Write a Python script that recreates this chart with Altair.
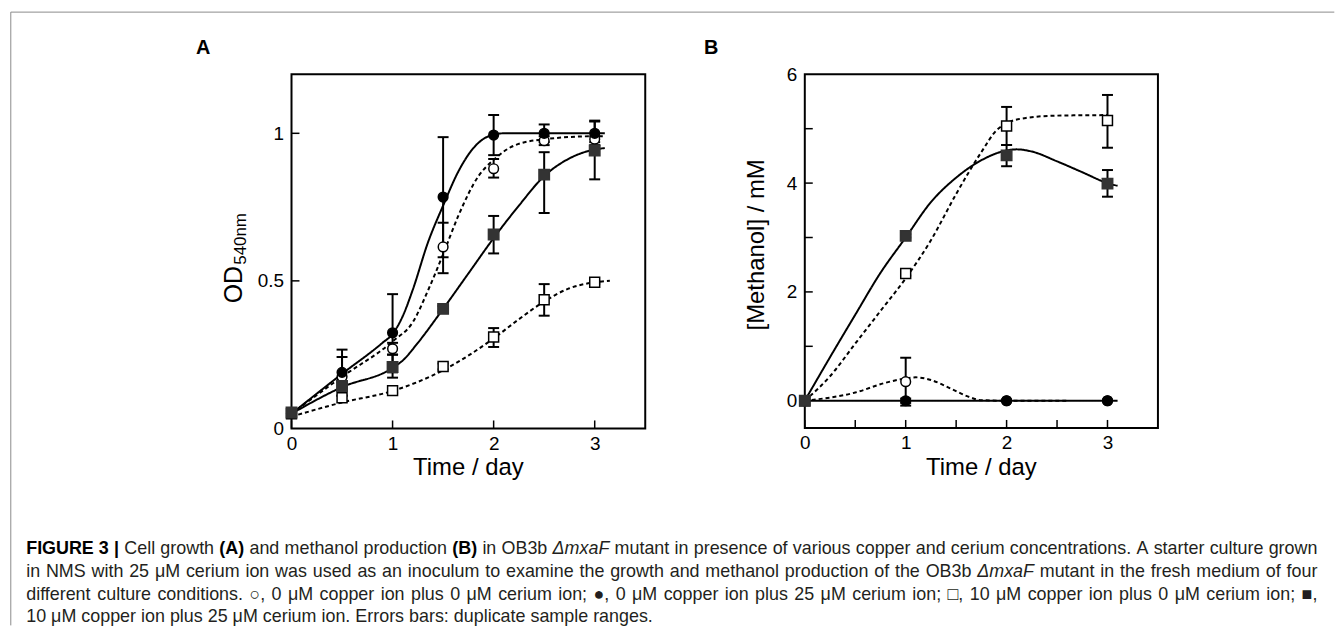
import altair as alt
import pandas as pd

# ---------------- Panel A: cell growth, OD540nm ----------------
a_time = [0, 0.5, 1, 1.5, 2, 2.5, 3]
a_cu0_ce0 = [0.05, 0.175, 0.27, 0.615, 0.88, 0.975, 0.98]
a_cu0_ce0_lo = [0.05, 0.11, 0.25, 0.526, 0.85, 0.96, 0.97]
a_cu0_ce0_hi = [0.05, 0.242, 0.29, 0.697, 0.913, 0.99, 0.99]
a_cu0_ce25 = [0.05, 0.19, 0.324, 0.784, 0.994, 1.0, 1.0]
a_cu0_ce25_lo = [0.05, 0.112, 0.19, 0.58, 0.926, 0.97, 0.96]
a_cu0_ce25_hi = [0.05, 0.267, 0.455, 0.987, 1.062, 1.03, 1.043]
a_cu10_ce0 = [0.05, 0.104, 0.128, 0.21, 0.31, 0.436, 0.495]
a_cu10_ce0_lo = [0.05, 0.104, 0.12, 0.2, 0.276, 0.382, 0.49]
a_cu10_ce0_hi = [0.05, 0.104, 0.135, 0.22, 0.34, 0.489, 0.5]
a_cu10_ce25 = [0.054, 0.144, 0.208, 0.405, 0.657, 0.86, 0.942]
a_cu10_ce25_lo = [0.054, 0.13, 0.172, 0.395, 0.593, 0.73, 0.844]
a_cu10_ce25_hi = [0.054, 0.158, 0.25, 0.415, 0.72, 0.936, 1.04]

# fitted curves of panel A
a_fit_cu0_ce0_t = [0, 0.5, 1.0, 1.2, 1.36, 1.5, 1.65, 1.85, 2.0, 2.2, 2.5, 3.0, 3.1]
a_fit_cu0_ce0_v = [0.05, 0.175, 0.295, 0.36, 0.475, 0.59, 0.72, 0.855, 0.91, 0.958, 0.98, 0.99, 0.99]
a_fit_cu0_ce25_t = [0, 0.5, 0.9, 1.0, 1.1, 1.2, 1.35, 1.5, 1.65, 1.8, 1.95, 2.1, 2.5, 3.0, 3.1]
a_fit_cu0_ce25_v = [0.05, 0.185, 0.29, 0.32, 0.38, 0.47, 0.63, 0.755, 0.87, 0.95, 0.99, 1.0, 1.0, 1.0, 1.0]
a_fit_cu10_ce0_t = [0, 0.5, 1.0, 1.5, 2.0, 2.25, 2.5, 2.75, 3.0, 3.15]
a_fit_cu10_ce0_v = [0.04, 0.088, 0.127, 0.197, 0.305, 0.37, 0.43, 0.475, 0.495, 0.5]
a_fit_cu10_ce25_t = [0, 0.5, 1.0, 1.1, 1.25, 1.5, 1.75, 2.0, 2.25, 2.5, 2.75, 3.0, 3.1]
a_fit_cu10_ce25_v = [0.05, 0.14, 0.205, 0.23, 0.29, 0.405, 0.525, 0.645, 0.755, 0.855, 0.915, 0.945, 0.95]

# ---------------- Panel B: methanol production, mM ----------------
b_time = [0, 1, 2, 3]
b_cu0_ce0 = [0, 0.35, 0, 0]
b_cu0_ce0_lo = [0, -0.09, 0, 0]
b_cu0_ce0_hi = [0, 0.79, 0, 0]
b_cu0_ce25 = [0, 0, 0, 0]
b_cu0_ce25_lo = [0, -0.04, 0, 0]
b_cu0_ce25_hi = [0, 0.04, 0, 0]
b_cu10_ce0 = [0, 2.34, 5.05, 5.15]
b_cu10_ce0_lo = [0, 2.3, 4.7, 4.65]
b_cu10_ce0_hi = [0, 2.4, 5.4, 5.62]
b_cu10_ce25 = [0, 3.03, 4.51, 3.99]
b_cu10_ce25_lo = [0, 3.0, 4.31, 3.75]
b_cu10_ce25_hi = [0, 3.06, 4.7, 4.24]

b_fit_cu0_ce0_t = [0, 0.5, 0.8, 1.0, 1.1, 1.25, 1.45, 1.6, 1.75, 2.0, 2.6]
b_fit_cu0_ce0_v = [0, 0.15, 0.33, 0.41, 0.43, 0.38, 0.22, 0.09, 0.01, 0, 0]
b_fit_cu0_ce25_t = [0, 3.1]
b_fit_cu0_ce25_v = [0, 0]
b_fit_cu10_ce0_t = [0, 0.25, 0.5, 0.75, 1.0, 1.25, 1.5, 1.75, 1.9, 2.0, 2.2, 2.5, 3.0]
b_fit_cu10_ce0_v = [0, 0.45, 1.05, 1.65, 2.25, 2.95, 3.8, 4.57, 4.97, 5.1, 5.2, 5.24, 5.25]
b_fit_cu10_ce25_t = [0, 0.25, 0.5, 0.75, 1.0, 1.25, 1.5, 1.75, 2.0, 2.1, 2.25, 2.5, 2.75, 3.0, 3.1]
b_fit_cu10_ce25_v = [0, 0.8, 1.58, 2.35, 3.0, 3.65, 4.1, 4.42, 4.6, 4.62, 4.58, 4.4, 4.2, 4.0, 3.95]

# axis tick positions and labels
a_xticks = [0, 1, 2, 3]
a_yticks = [0.5, 1.0]
a_ylabels = [0, 0.5, 1]
b_xticks = [0, 0.5, 1, 1.5, 2, 2.5, 3]
b_yticks = [1, 2, 3, 4, 5]
b_ylabels = [0, 2, 4, 6]
xlabels = [0, 1, 2, 3]

# caption text (word, style) ; b = bold, i = italic, r = regular
caption = [
    [("FIGURE 3", "b"), ("|", "b"), ("Cell", "r"), ("growth", "r"), ("(A)", "b"), ("and", "r"),
     ("methanol", "r"), ("production", "r"), ("(B)", "b"), ("in", "r"), ("OB3b", "r"),
     ("ΔmxaF", "i")] + [(w, "r") for w in
     "mutant in presence of various copper and cerium concentrations. A starter culture grown".split()],
    [(w, "r") for w in
     "in NMS with 25 μM cerium ion was used as an inoculum to examine the growth and methanol production of the OB3b".split()]
    + [("ΔmxaF", "i")] + [(w, "r") for w in "mutant in the fresh medium of four".split()],
    [(w, "r") for w in
     ("different culture conditions. ○, 0 μM copper ion plus 0 μM cerium ion; ●, 0 μM copper ion plus "
      "25 μM cerium ion; □, 10 μM copper ion plus 0 μM cerium ion; ■,").split()],
    [(w, "r") for w in "10 μM copper ion plus 25 μM cerium ion. Errors bars: duplicate sample ranges.".split()],
]

FONT = "Liberation Sans"

# Arial / Liberation Sans advance widths (1/1000 em), used to lay the justified caption out
_W = {' ': 278, '(': 333, ')': 333, ',': 278, '.': 278, ':': 278, ';': 278, '|': 260, '/': 278,
      'A': 667, 'B': 667, 'C': 722, 'D': 722, 'E': 667, 'F': 611, 'G': 778, 'H': 722, 'I': 278,
      'M': 833, 'N': 722, 'O': 778, 'R': 722, 'S': 667, 'U': 722,
      'a': 556, 'b': 556, 'c': 500, 'd': 556, 'e': 556, 'f': 278, 'g': 556, 'h': 556, 'i': 222,
      'j': 222, 'k': 500, 'l': 222, 'm': 833, 'n': 556, 'o': 556, 'p': 556, 'q': 556, 'r': 333,
      's': 500, 't': 278, 'u': 556, 'v': 500, 'w': 722, 'x': 500, 'y': 500, 'z': 500,
      'μ': 576, 'Δ': 668, '○': 604, '●': 604, '□': 604, '■': 604}
_WB = dict(_W, **{'A': 722, 'B': 722, '|': 280})


def text_width(s, style, size):
    tab = _WB if style == "b" else _W
    return sum(tab.get(ch, 556) for ch in s) * size / 1000.0


STYLE = {
    "cu0_ce0": dict(shape="circle", fill="white", stroke="black", dash=[4, 3], size=95),
    "cu0_ce25": dict(shape="circle", fill="black", stroke="black", dash=[1, 0], size=95),
    "cu10_ce0": dict(shape="square", fill="white", stroke="black", dash=[4, 3], size=100),
    "cu10_ce25": dict(shape="square", fill="#333333", stroke="#333333", dash=[1, 0], size=110),
}


def pts(time, d):
    rows = []
    for key, (v, lo, hi) in d.items():
        for t, a, b, c in zip(time, v, lo, hi):
            rows.append({"t": t, "v": a, "lo": b, "hi": c, "s": key})
    return pd.DataFrame(rows)


def fits(d):
    rows = []
    for key, (ts, vs) in d.items():
        for t, v in zip(ts, vs):
            rows.append({"t": t, "v": v, "s": key})
    return pd.DataFrame(rows)


def txt(s, x, y, size, weight="normal", style="normal", angle=0, align="left",
        baseline="middle", font=FONT, color="black"):
    return alt.Chart(pd.DataFrame({"txt": [s]})).mark_text(
        x=x, y=y, fontSize=size, fontWeight=weight, fontStyle=style, angle=angle,
        align=align, baseline=baseline, font=font, color=color
    ).encode(text="txt:N")


XS = alt.Scale(domain=[0, 3.5], nice=False, zero=False)
XAX = alt.Axis(values=xlabels, title=None, domain=False, ticks=False, grid=False,
               labelFontSize=19, labelFont=FONT, labelColor="black", labelPadding=6,
               labelFlush=False, format="~g")


def X(f):
    return alt.X(f, type="quantitative", scale=XS, axis=XAX)


def panel(points, curves, ydom, xt, yt, ylab, w, h):
    ys = alt.Scale(domain=ydom, nice=False, zero=False)
    yax = alt.Axis(values=ylab, title=None, domain=False, ticks=False, grid=False,
                   labelFontSize=19, labelFont=FONT, labelColor="black", labelPadding=8,
                   labelFlush=False, format="~g")

    def Y(f):
        return alt.Y(f, type="quantitative", scale=ys, axis=yax)

    layers = []
    # inward ticks
    layers.append(alt.Chart(pd.DataFrame({"tk": xt})).mark_rule(color="black", strokeWidth=1.5)
                  .encode(x=X("tk"), y=alt.value(h), y2=alt.value(h - 8)))
    layers.append(alt.Chart(pd.DataFrame({"tk": yt})).mark_rule(color="black", strokeWidth=1.5)
                  .encode(y=Y("tk"), x=alt.value(0), x2=alt.value(8)))
    for key, st in STYLE.items():
        c = curves[curves.s == key]
        layers.append(alt.Chart(c).mark_line(interpolate="monotone", color="black",
                                             strokeWidth=2, strokeDash=st["dash"])
                      .encode(x=X("t"), y=Y("v")))
    eb = points[points.hi - points.lo > 0.001]
    layers.append(alt.Chart(eb).mark_rule(color="black", strokeWidth=2)
                  .encode(x=X("t"), y=Y("lo"), y2="hi"))
    for f in ["lo", "hi"]:
        layers.append(alt.Chart(eb).mark_tick(orient="horizontal", color="black", size=11,
                                              thickness=2, opacity=1)
                      .encode(x=X("t"), y=Y(f)))
    for key, st in STYLE.items():
        p = points[points.s == key]
        layers.append(alt.Chart(p).mark_point(shape=st["shape"], filled=True, fill=st["fill"],
                                              stroke=st["stroke"], strokeWidth=1.5,
                                              size=st["size"], opacity=1)
                      .encode(x=X("t"), y=Y("v")))
    return layers


pa = pts(a_time, {
    "cu0_ce0": (a_cu0_ce0, a_cu0_ce0_lo, a_cu0_ce0_hi),
    "cu0_ce25": (a_cu0_ce25, a_cu0_ce25_lo, a_cu0_ce25_hi),
    "cu10_ce0": (a_cu10_ce0, a_cu10_ce0_lo, a_cu10_ce0_hi),
    "cu10_ce25": (a_cu10_ce25, a_cu10_ce25_lo, a_cu10_ce25_hi),
})
fa = fits({
    "cu0_ce0": (a_fit_cu0_ce0_t, a_fit_cu0_ce0_v),
    "cu0_ce25": (a_fit_cu0_ce25_t, a_fit_cu0_ce25_v),
    "cu10_ce0": (a_fit_cu10_ce0_t, a_fit_cu10_ce0_v),
    "cu10_ce25": (a_fit_cu10_ce25_t, a_fit_cu10_ce25_v),
})
pb = pts(b_time, {
    "cu0_ce0": (b_cu0_ce0, b_cu0_ce0_lo, b_cu0_ce0_hi),
    "cu0_ce25": (b_cu0_ce25, b_cu0_ce25_lo, b_cu0_ce25_hi),
    "cu10_ce0": (b_cu10_ce0, b_cu10_ce0_lo, b_cu10_ce0_hi),
    "cu10_ce25": (b_cu10_ce25, b_cu10_ce25_lo, b_cu10_ce25_hi),
})
fb = fits({
    "cu0_ce0": (b_fit_cu0_ce0_t, b_fit_cu0_ce0_v),
    "cu0_ce25": (b_fit_cu0_ce25_t, b_fit_cu0_ce25_v),
    "cu10_ce0": (b_fit_cu10_ce0_t, b_fit_cu10_ce0_v),
    "cu10_ce25": (b_fit_cu10_ce25_t, b_fit_cu10_ce25_v),
})

WA, HA = 355.6, 356
WB, HB = 355, 355.5
OX, OY = 291.7, 72  # page position of panel A plot origin

la = panel(pa, fa, [0, 1.2], a_xticks, a_yticks, a_ylabels, WA, HA)
lb = panel(pb, fb, [-0.5, 6], b_xticks, b_yticks, b_ylabels, WB, HB)

# frame of the figure
la.append(alt.Chart(pd.DataFrame({"k": [0]})).mark_rule(color="#8a8a8a", strokeWidth=1)
          .encode(x=alt.value(9.5 - OX), x2=alt.value(1340 - OX), y=alt.value(9.5 - OY)))
la.append(alt.Chart(pd.DataFrame({"k": [0]})).mark_rule(color="#8a8a8a", strokeWidth=1)
          .encode(x=alt.value(9.5 - OX), y=alt.value(9.5 - OY), y2=alt.value(626 - OY)))

# panel letters and titles
la.append(txt("A", 203 - OX, 46 - OY, 20, weight="bold", align="center"))
lb.append(txt("B", -94, 46 - OY, 20, weight="bold", align="center"))
la.append(txt("Time / day", WA / 2, 468 - OY, 24, align="center"))
lb.append(txt("Time / day", WB / 2, 468 - OY, 24, align="center"))
la.append(txt("OD", 234 - OX, 283.5 - OY, 25, angle=270, align="center"))
la.append(txt("540nm", 241 - OX, 237.5 - OY, 17, angle=270, align="center"))
lb.append(txt("[Methanol] / mM", -48.3, 171.5, 24, angle=270, align="center"))

# caption: words laid out with font metrics, lines 1-3 justified
CAP_SIZE = 18
CAP_X0, CAP_X1 = 25, 1323
CAP_BASE = [554, 577, 600, 623]
for li, line in enumerate(caption):
    widths = [text_width(wd, st, CAP_SIZE) for wd, st in line]
    natural_gap = 278 * CAP_SIZE / 1000.0
    if li < 3:
        gap = (CAP_X1 - CAP_X0 - sum(widths)) / (len(line) - 1)
        gap = max(gap, 2.0)
    else:
        gap = natural_gap
    x = CAP_X0
    rows = {"b": [], "i": [], "r": []}
    for (wd, st), wdt in zip(line, widths):
        rows[st].append({"w": wd, "tx": (x - OX) * 3.5 / WA})
        x += wdt + gap
    for st, rr in rows.items():
        if not rr:
            continue
        la.append(alt.Chart(pd.DataFrame(rr)).mark_text(
            y=CAP_BASE[li] - OY, fontSize=CAP_SIZE, font=FONT, align="left", baseline="alphabetic",
            fontWeight="bold" if st == "b" else "normal",
            fontStyle="italic" if st == "i" else "normal",
            color="#000000" if st == "b" else "#231f20"
        ).encode(x=X("tx"), text="w:N"))

panel_a = alt.layer(*la).properties(width=WA, height=HA)
panel_b = alt.layer(*lb).properties(width=WB, height=HB)

chart = alt.hconcat(panel_a, panel_b, spacing=160, bounds="flush").properties(
    padding={"left": 1, "top": 1, "right": 0, "bottom": 0}
).configure_view(stroke="black", strokeWidth=2)

chart.save("out.html", embed_options={"renderer": "svg", "actions": False})
